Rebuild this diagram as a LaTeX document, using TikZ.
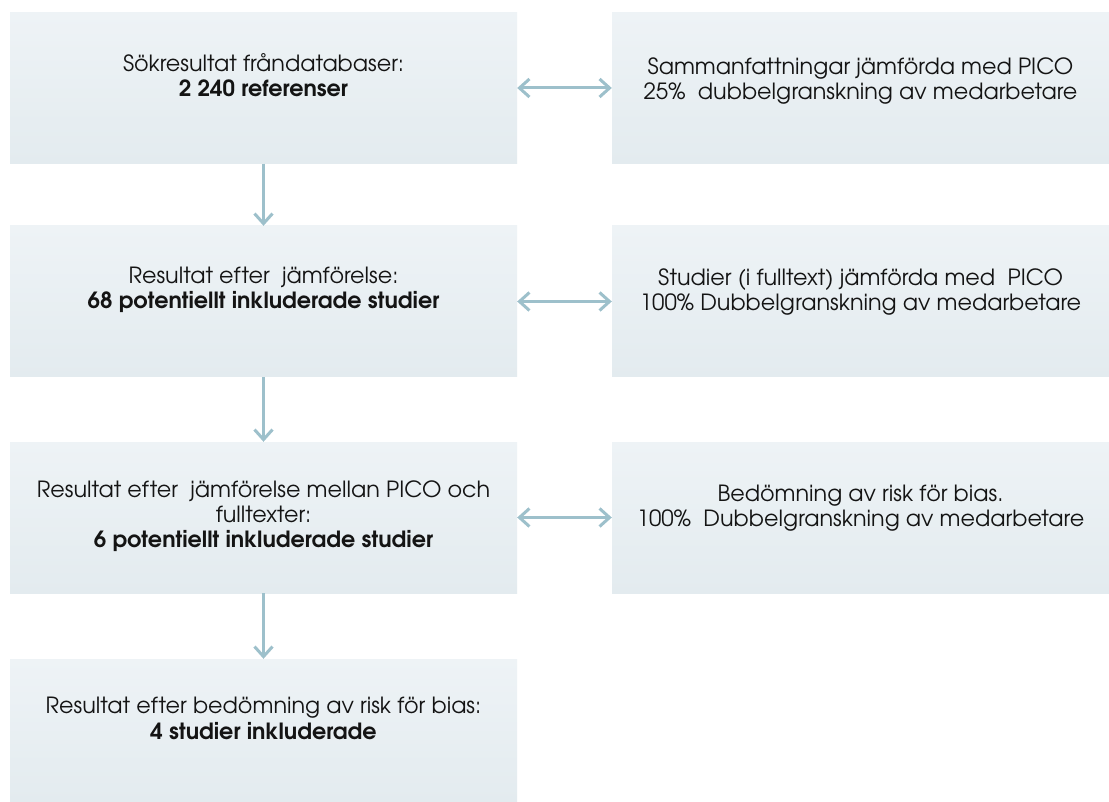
\documentclass[tikz,border=0pt]{standalone}
\usepackage{fontspec}
\setmainfont{texgyreadventor}[Extension=.otf, UprightFont=*-regular, BoldFont=*-bold]
\usetikzlibrary{arrows.meta}
\definecolor{boxtop}{HTML}{EEF3F6}
\definecolor{boxbot}{HTML}{E3EBEF}
\definecolor{arrowc}{HTML}{9DC0CB}
\definecolor{txt}{HTML}{141414}
\tikzset{
  box/.style={rectangle, draw=none, inner sep=0pt, top color=boxtop, bottom color=boxbot},
  lbox/.style={box, minimum width=507, minimum height=151},
  rbox/.style={box, minimum width=497, minimum height=151},
  label/.style={align=center, text=txt, inner sep=0pt, font=\fontsize{22.3}{25.2}\selectfont},
  flow/.style={draw=arrowc, line width=3pt, -{Straight Barb[length=10pt,width=18pt,line width=3pt]}},
  biflow/.style={draw=arrowc, line width=3pt, {Straight Barb[length=10pt,width=18pt,line width=3pt]}-{Straight Barb[length=10pt,width=18pt,line width=3pt]}}
}
\begin{document}
\begin{tikzpicture}[x=1pt,y=-1pt]
\useasboundingbox (0,0) rectangle (1109,802);
\fill[white] (0,0) rectangle (1109,802);
\node[lbox] (b1) at (263.5,88) {};
\node[lbox] (b2) at (263.5,301.5) {};
\node[lbox] (b3) at (263.5,517.5) {};
\node[lbox, minimum height=143] (b4) at (263.5,730.5) {};
\node[rbox] (r1) at (860.5,88) {};
\node[rbox] (r2) at (860.5,301.5) {};
\node[rbox] (r3) at (860.5,517.5) {};

\node[label] (t1) at (263.5,75.5) {Sökresultat fråndatabaser:\\\textbf{2 240 referenser}};
\node[label] (t2) at (263.5,290) {Resultat efter\ \ jämförelse:\\\textbf{68 potentiellt inkluderade studier}};
\node[label] (t3) at (263.5,516) {Resultat efter\ \ jämförelse mellan PICO och\\fulltexter:\\\textbf{6 potentiellt inkluderade studier}};
\node[label] (t4) at (263.5,718.5) {Resultat efter bedömning av risk för bias:\\\textbf{4 studier inkluderade}};
\node[label] (s1) at (860.5,81) {Sammanfattningar jämförda med PICO\\25\%\ \ dubbelgranskning av medarbetare};
\node[label] (s2) at (860.5,292) {Studier (i fulltext) jämförda med\ \ PICO\\100\% Dubbelgranskning av medarbetare};
\node[label] (s3) at (860.5,508) {Bedömning av risk för bias.\\100\%\ \ Dubbelgranskning av medarbetare};

\draw[flow] (b1.south) -- (b2.north);
\draw[flow] (b2.south) -- (b3.north);
\draw[flow] (b3.south) -- (b4.north);
\draw[biflow] (b1.east) -- (r1.west);
\draw[biflow] (b2.east) -- (r2.west);
\draw[biflow] (b3.east) -- (r3.west);
\end{tikzpicture}
\end{document}
